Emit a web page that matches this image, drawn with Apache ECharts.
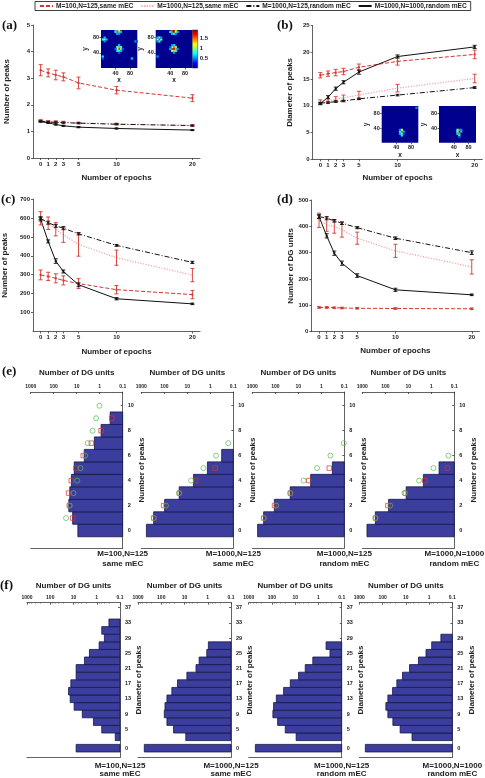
<!DOCTYPE html>
<html><head><meta charset="utf-8">
<script src="https://cdn.jsdelivr.net/npm/echarts@6/dist/echarts.min.js"></script>
<style>html,body{margin:0;padding:0;background:#fff}#c{width:485px;height:778px}</style>
</head><body><div id="c"></div>
<script>
// ---------------- data ----------------
const seriesNames = ['M=100,N=125,same mEC','M=1000,N=125,same mEC','M=1000,N=125,random mEC','M=1000,N=1000,random mEC'];
const epochs = [0,1,2,3,5,10,20];

// (a) Number of peaks
const aSame100 = [3.30,3.20,3.12,3.05,2.82,2.55,2.25];
const aSame100Err = [0.21,0.15,0.18,0.15,0.22,0.14,0.13];
const aSame1000 = [1.42,1.38,1.37,1.35,1.32,1.28,1.22];
const aSame1000Err = [0.03,0.03,0.03,0.03,0.03,0.03,0.03];
const aRand125 = [1.38,1.35,1.34,1.33,1.31,1.27,1.22];
const aRand125Err = [0.02,0.02,0.02,0.02,0.02,0.02,0.02];
const aRand1000 = [1.37,1.32,1.26,1.21,1.16,1.11,1.05];
const aRand1000Err = [0.02,0.02,0.02,0.02,0.02,0.02,0.02];

// (b) Diameter of peaks
const bSame100 = [15.7,16.0,16.2,16.4,17.2,18.3,19.6];
const bSame100Err = [0.5,0.5,0.6,0.6,0.6,0.7,0.8];
const bSame1000 = [10.7,11.0,11.2,11.5,12.0,13.3,15.1];
const bSame1000Err = [0.4,0.4,0.5,0.5,0.7,0.7,0.8];
const bRand125 = [10.5,10.6,10.8,10.9,11.3,12.0,13.4];
const bRand125Err = [0.15,0.15,0.15,0.15,0.15,0.15,0.15];
const bRand1000 = [10.4,11.6,13.2,14.4,16.3,19.2,21.0];
const bRand1000Err = [0.2,0.3,0.3,0.3,0.4,0.3,0.3];

// (c) Number of peaks (total)
const cSame100 = [299,291,281,270,253,221,195];
const cSame100Err = [26,22,24,24,26,22,22];
const cSame1000 = [598,572,540,511,460,390,298];
const cSame1000Err = [35,33,35,40,62,40,35];
const cRand125 = [598,575,558,546,516,455,365];
const cRand125Err = [8,8,8,8,6,5,6];
const cRand1000 = [594,476,372,317,247,173,146];
const cRand1000Err = [10,8,12,8,10,6,4];

// (d) Number of DG units
const dSame100 = [92,92,91,90,89,88,87];
const dSame100Err = [3,3,3,3,3,3,3];
const dSame1000 = [423,406,399,387,355,307,246];
const dSame1000Err = [27,25,25,28,23,25,27];
const dRand125 = [437,431,421,412,395,355,300];
const dRand125Err = [7,6,5,5,4,5,7];
const dRand1000 = [437,364,298,260,213,159,140];
const dRand1000Err = [6,8,8,8,7,6,3];

// inset rate maps: [x, y, rate]
const aInsetL = [[45,100,1.4],[50,100,1.2],[40,100,0.6],[45,95,1.6],[50,95,1.3],[40,95,0.7],[55,95,0.6],[45,90,0.6],[50,90,0.5],
  [50,50,1.8],[50,55,1.4],[45,50,1.2],[55,50,1.0],[50,45,1.0],[45,55,0.9],[55,55,0.8],[45,45,0.7],[55,45,0.6],[50,60,0.6],[40,50,0.4],[60,50,0.4],[50,40,0.4],
  [10,75,1.2],[5,75,0.8],[15,75,0.6],[10,80,0.6],[10,70,0.5],
  [5,30,0.7],[5,25,0.4],[85,25,0.6],[95,70,0.5],[100,70,0.4]];
const aInsetR = [[45,100,1.6],[50,100,1.9],[55,100,1.3],[45,95,1.5],[50,95,1.9],[55,95,1.2],[40,95,0.7],[60,95,0.6],[50,90,0.8],[45,90,0.6],[55,90,0.5],
  [50,50,1.9],[45,50,1.7],[55,50,1.4],[50,55,1.6],[50,45,1.3],[45,55,1.2],[55,55,1.0],[45,45,1.0],[55,45,0.8],[50,60,0.7],[40,50,0.6],[60,50,0.5],[50,40,0.5],[45,60,0.5],[40,55,0.4],
  [10,75,1.7],[5,75,1.2],[15,75,0.9],[10,80,0.9],[10,70,0.8],[5,80,0.6],[15,80,0.5],[5,70,0.5],
  [5,30,0.5]];
const bInsetL = [[55,30,1.6],[55,35,1.2],[55,25,1.2],[55,20,0.7],[50,30,0.8],[50,25,0.6],[60,30,0.6],[60,25,0.4],[50,35,0.5],[95,95,0.5]];
const bInsetR = [[55,30,1.9],[55,35,1.5],[55,25,1.5],[55,20,0.8],[50,30,1.0],[50,35,0.8],[50,25,0.7],[60,30,0.6],[60,35,0.5],[55,15,0.4]];
const colorbarRange = [0, 1.9];
const colorbarTicks = [0.5, 1, 1.5];
const insetTicks = [40, 80];

// (e) number of peaks histograms
const peakBins = [0,1,2,3,4,5,6,7,8,9,10];
const peakTicks = [0,2,4,6,8,10];
const e1Bars = [8.9,15,22,20,17,12.8,4.7,1.7,0.87,0.35];
const e1Circ = [null,29,20,13.7,9.5,6.8,4.3,3.3,2.05,1.43,1.02];
const e1Sq   = [null,15,21,22.5,17.2,10.8,5.2,2.3,0.87,0.30];
const e2Bars = [600,290,97,22.5,5.4,1.34,0.32];
const e2Circ = [null,290,85,23,6.8,2.0,0.56,0.165];
const e2Sq   = [null,285,107,22,4.3,0.62];
const e3Bars = [587,321,110,22.5,2.9,0.33];
const e3Circ = [null,321,91,22.5,5.9,1.53,0.40,0.105];
const e3Sq   = [null,315,108,22,3.5,0.45];
const e4Bars = [626,271,72,12.4,2.2,0.46];
const e4Circ = [null,271,61,14.6,3.4,0.81,0.18];
const e4Sq   = [null,265,77,13.5,1.92,0.20];

// (f) diameter of peaks histograms
const diamBins = [0,3,5,7,9,11,13,15,17,19,21,23,25,27,29,31,33];
const diamTicks = [0,5,9,13,17,21,25,29,33,37];
const f1Bars = [7.7,0.16,0.61,1.39,4.2,9.4,13.9,16.3,13.0,7.7,7.7,3.38,2.06,0.79,0.47,0.61,0.30];
const f2Bars = [536,8.8,29.6,57,74,69,57,35,20,7.9,3.2,2.35,1.1,0.94];
const f3Bars = [516,9.1,26.8,57,91,85,65,31.6,16.3,7.2,3.7,1.75,0.32,0.47];
const f4Bars = [550,5.4,17.5,36,59,72,59,37,24.3,13.9,6.9,2.86,1.35,0.77,0.31];

const panelLabels = [['M=100,N=125','same mEC'],['M=1000,N=125','same mEC'],['M=1000,N=125','random mEC'],['M=1000,N=1000','random mEC']];

// ---------------- styling helpers ----------------
const FONT = 'Liberation Sans, Arial, Helvetica, sans-serif';
const AXL = {color:'#3a3a3a', width:0.8};
const lab = (fs, extra) => Object.assign({fontSize:fs, fontWeight:'bold', color:'#222', fontFamily:FONT}, extra || {});
const jet = ['#00008f','#0000ff','#007fff','#00ffff','#7fff7f','#ffff00','#ff7f00','#ff0000','#7f0000'];
const styles = [
  {color:'#d6352f', type:[4,2], width:1, err:'#d6352f', symbol:'rect', size:2, mark:'#d6352f'},
  {color:'#f2a3a3', type:[1.2,1.5], width:1.2, err:'#d6352f', symbol:'none', size:2, mark:'#f2a3a3'},
  {color:'#111', type:[5,2,1,2], width:1, err:'#111', symbol:'rect', size:2, mark:'#111'},
  {color:'#111', type:'solid', width:1, err:'#111', symbol:'rect', size:2, mark:'#111'}
];

const grids = [], xAxes = [], yAxes = [], series = [], titles = [], insetSeries = [];
function addGrid(g){ grids.push(Object.assign({containLabel:false, outerBoundsMode:'none'}, g)); return grids.length - 1; }
function addX(o){ xAxes.push(o); return xAxes.length - 1; }
function addY(o){ yAxes.push(o); return yAxes.length - 1; }

function errRender(params, api){
  const x = api.value(0), lo = api.value(1), hi = api.value(2);
  const p1 = api.coord([x, lo]), p2 = api.coord([x, hi]);
  const w = 2;
  const style = {stroke: api.visual('color'), lineWidth: 0.9};
  return {type:'group', children:[
    {type:'line', shape:{x1:p1[0], y1:p1[1], x2:p2[0], y2:p2[1]}, style},
    {type:'line', shape:{x1:p1[0]-w, y1:p1[1], x2:p1[0]+w, y2:p1[1]}, style},
    {type:'line', shape:{x1:p2[0]-w, y1:p2[1], x2:p2[0]+w, y2:p2[1]}, style}
  ]};
}

function linePanel(box, yMin, yMax, yInt, yName, yGap, xGap, hideMin, vals, errs){
  const gi = addGrid(box);
  const xi = addX({gridIndex:gi, type:'value', min:-1, max:21, position:'bottom',
    axisLine:{show:true, onZero:false, lineStyle:AXL},
    axisTick:{show:true, length:2, customValues:epochs, lineStyle:AXL},
    axisLabel:lab(6, {customValues:epochs, margin:3}), splitLine:{show:false},
    name:'Number of epochs', nameLocation:'middle', nameGap:xGap, nameTextStyle:lab(8)});
  const yi = addY({gridIndex:gi, type:'value', min:yMin, max:yMax, interval:yInt, position:'left',
    axisLine:{show:true, onZero:false, lineStyle:AXL},
    axisTick:{show:true, length:2, lineStyle:AXL},
    axisLabel:lab(6, {margin:3, showMinLabel:!hideMin}), splitLine:{show:false},
    name:yName, nameLocation:'middle', nameRotate:90, nameGap:yGap, nameTextStyle:lab(8)});
  for (let s = 0; s < 4; s++){
    const st = styles[s];
    series.push({type:'line', name:seriesNames[s], xAxisIndex:xi, yAxisIndex:yi,
      data: epochs.map((e, j) => [e, vals[s][j]]),
      symbol:st.symbol, symbolSize:st.size, lineStyle:{color:st.color, width:st.width, type:st.type},
      itemStyle:{color:st.mark}, z:2, silent:true});
  }
  for (let s = 0; s < 4; s++){
    series.push({type:'custom', name:'err'+s, xAxisIndex:xi, yAxisIndex:yi, renderItem:errRender,
      itemStyle:{color:styles[s].err}, encode:{x:0, y:[1,2]}, z:3, silent:true,
      data: epochs.map((e, j) => [e, vals[s][j] - errs[s][j], vals[s][j] + errs[s][j]])});
  }
}

function cellRender(params, api){
  const x = api.value(0), y = api.value(1);
  const a = api.coord([x - 2.5, y + 2.5]), b = api.coord([x + 2.5, y - 2.5]);
  return {type:'rect', shape:{x:a[0]-0.2, y:a[1]-0.2, width:b[0]-a[0]+0.4, height:b[1]-a[1]+0.4},
    style:{fill: api.visual('color')}};
}

function insetPanel(box, cells, xGap, yGap){
  const gi = addGrid(Object.assign({show:true, backgroundColor:'#00008f', borderWidth:0}, box));
  const xi = addX({gridIndex:gi, type:'value', min:0, max:100, position:'bottom',
    axisLine:{show:false, onZero:false}, axisTick:{show:true, length:1.5, customValues:insetTicks, lineStyle:AXL},
    axisLabel:lab(5.5, {customValues:insetTicks, margin:2}), splitLine:{show:false},
    name:'x', nameLocation:'middle', nameGap:xGap, nameTextStyle:lab(6.5)});
  const yi = addY({gridIndex:gi, type:'value', min:0, max:100, position:'left',
    axisLine:{show:false, onZero:false}, axisTick:{show:true, length:1.5, customValues:insetTicks, lineStyle:AXL},
    axisLabel:lab(5.5, {customValues:insetTicks, margin:2}), splitLine:{show:false},
    name:'y', nameLocation:'middle', nameRotate:90, nameGap:yGap, nameTextStyle:lab(6.5)});
  series.push({type:'custom', xAxisIndex:xi, yAxisIndex:yi, renderItem:cellRender, clip:true,
    data:cells, encode:{x:0, y:1}, silent:true});
  insetSeries.push(series.length - 1);
}

function hbar(half){
  return function(params, api){
    const v = api.value(0), y = api.value(1);
    const p1 = api.coord([v, y + half]);
    const p2 = api.coord([0.1, y - half]);
    return {type:'rect', shape:{x:Math.min(p1[0],p2[0]), y:Math.min(p1[1],p2[1]),
      width:Math.abs(p2[0]-p1[0]), height:Math.abs(p2[1]-p1[1])},
      style:{fill:'#3b3e9d', stroke:'#16164a', lineWidth:0.8}};
  };
}

function histPanel(box, yMin, yMax, yTicks, yName, nameGapTop, nameGapY, bins, half, bars, circ, sq){
  const gi = addGrid(box);
  const xi = addX({gridIndex:gi, type:'log', logBase:10, min:0.1, max:1000, inverse:true, position:'top',
    axisLine:{show:true, onZero:false, lineStyle:AXL},
    axisTick:{show:true, inside:true, length:2, lineStyle:AXL},
    minorTick:{show:true, splitNumber:5, length:1.2, lineStyle:{color:'#666', width:0.5}},
    axisLabel:lab(5, {margin:3, formatter: v => String(+Number(v).toPrecision(4))}),
    splitLine:{show:false},
    name:'Number of DG units', nameLocation:'middle', nameGap:nameGapTop, nameTextStyle:lab(8)});
  addX({gridIndex:gi, type:'value', min:0, max:1, position:'bottom',
    axisLine:{show:true, onZero:false, lineStyle:AXL}, axisTick:{show:false}, axisLabel:{show:false}, splitLine:{show:false}});
  const yi = addY({gridIndex:gi, type:'value', min:yMin, max:yMax, position:'right',
    axisLine:{show:true, onZero:false, lineStyle:AXL},
    axisTick:{show:true, inside:true, length:2, customValues:yTicks, lineStyle:AXL},
    axisLabel:lab(5.5, {customValues:yTicks, margin:5}), splitLine:{show:false},
    name:yName, nameLocation:'middle', nameRotate:90, nameGap:nameGapY, nameTextStyle:lab(8)});
  series.push({type:'custom', xAxisIndex:xi, yAxisIndex:yi, renderItem:hbar(half), silent:true,
    encode:{x:0, y:1}, data: bins.map((b, i) => [bars[i], b]).filter(d => d[0] != null)});
  if (sq) series.push({type:'scatter', xAxisIndex:xi, yAxisIndex:yi, symbol:'rect', symbolSize:4.5, silent:true, z:4,
    itemStyle:{color:'rgba(0,0,0,0)', borderColor:'#d6352f', borderWidth:0.9},
    data: bins.map((b, i) => [sq[i], b]).filter(d => d[0] != null)});
  if (circ) series.push({type:'scatter', xAxisIndex:xi, yAxisIndex:yi, symbol:'circle', symbolSize:5, silent:true, z:5,
    itemStyle:{color:'rgba(0,0,0,0)', borderColor:'#5cb85c', borderWidth:0.9},
    data: bins.map((b, i) => [circ[i], b]).filter(d => d[0] != null)});
}

// ---------------- panels ----------------
linePanel({left:33, top:25, width:167, height:133}, 0, 5, 1, 'Number of peaks', 22, 16, false,
  [aSame100, aSame1000, aRand125, aRand1000], [aSame100Err, aSame1000Err, aRand125Err, aRand1000Err]);
linePanel({left:312.6, top:25.5, width:169.8, height:133.8}, 0, 25, 5, 'Diameter of peaks', 19, 14.5, false,
  [bSame100, bSame1000, bRand125, bRand1000], [bSame100Err, bSame1000Err, bRand125Err, bRand1000Err]);
linePanel({left:33, top:199, width:167, height:132.5}, 0, 700, 100, 'Number of peaks', 24, 16, true,
  [cSame100, cSame1000, cRand125, cRand1000], [cSame100Err, cSame1000Err, cRand125Err, cRand1000Err]);
linePanel({left:311.4, top:200, width:168, height:131.7}, 0, 500, 100, 'Number of DG units', 16.5, 15, false,
  [dSame100, dSame1000, dRand125, dRand1000], [dSame100Err, dSame1000Err, dRand125Err, dRand1000Err]);

insetPanel({left:101, top:30, width:36.3, height:38}, aInsetL, 7, 10);
insetPanel({left:155.7, top:30, width:36.6, height:38}, aInsetR, 7, 10);
insetPanel({left:381.7, top:106, width:36.6, height:36.7}, bInsetL, 7.5, 10);
insetPanel({left:439, top:106, width:37, height:36.7}, bInsetR, 7.5, 10);

// colorbar
{
  const gi = addGrid({left:192.3, top:30, width:5.4, height:38});
  const xi = addX({gridIndex:gi, type:'value', min:0, max:1, show:false});
  const yi = addY({gridIndex:gi, type:'value', min:colorbarRange[0], max:colorbarRange[1], position:'right',
    axisLine:{show:false, onZero:false}, axisTick:{show:false},
    axisLabel:lab(6, {customValues:colorbarTicks, margin:2}), splitLine:{show:false}});
  series.push({type:'custom', xAxisIndex:xi, yAxisIndex:yi, silent:true, encode:{x:[0,2], y:[1,3]},
    data:[[0, colorbarRange[0], 1, colorbarRange[1]]],
    renderItem:(p, api) => {
      const a = api.coord([api.value(0), api.value(1)]), b = api.coord([api.value(2), api.value(3)]);
      return {type:'rect', shape:{x:a[0], y:b[1], width:b[0]-a[0], height:a[1]-b[1]},
        style:{fill:{type:'linear', x:0, y:1, x2:0, y2:0,
          colorStops: jet.map((c, i) => ({offset:i/(jet.length-1), color:c}))}, stroke:'#222', lineWidth:0.5}};
    }});
}

const eLefts = [30.7, 141.3, 252.3, 362.3];
const eData = [[e1Bars,e1Circ,e1Sq],[e2Bars,e2Circ,e2Sq],[e3Bars,e3Circ,e3Sq],[e4Bars,e4Circ,e4Sq]];
eLefts.forEach((l, i) => histPanel({left:l, top:392, width:92, height:156}, -1.4, 11.1, peakTicks,
  'Number of peaks', 15.7, 11.6, peakBins, 0.5, eData[i][0], eData[i][1], eData[i][2]));
const fLefts = [27, 138, 248.7, 359.3];
const fData = [f1Bars, f2Bars, f3Bars, f4Bars];
fLefts.forEach((l, i) => histPanel({left:l, top:602.7, width:93, height:154.6}, -2.4, 38.3, diamTicks,
  'Diameter of peaks', 13, 11, diamBins, 1, fData[i], null, null));

// texts
const panelTag = (t, x, y) => titles.push({text:t, left:x, top:y, padding:0,
  textStyle:{fontFamily:'Liberation Serif, Times New Roman, serif', fontSize:13, fontWeight:'bold', color:'#111'}});
panelTag('(a)', 2, 19); panelTag('(b)', 277, 19); panelTag('(c)', 1, 193); panelTag('(d)', 277, 193);
panelTag('(e)', 2, 365.5); panelTag('(f)', 0, 579);
eLefts.forEach((l, i) => titles.push({text:panelLabels[i].join('\n'), left:l + 92, top:549.5, padding:0, textAlign:'center',
  textStyle:lab(8, {lineHeight:9.3})}));
fLefts.forEach((l, i) => titles.push({text:panelLabels[i].join('\n'), left:l + 93, top:761, padding:0, textAlign:'center',
  textStyle:lab(8, {lineHeight:8.7})}));

const option = {
  animation:false, backgroundColor:'#fff', textStyle:{fontFamily:FONT},
  title:titles,
  legend:{data:seriesNames, left:35, top:1.5, padding:[1,4,1,4], itemGap:7, itemWidth:13, itemHeight:6,
    borderColor:'#111', borderWidth:0.8, itemStyle:{opacity:0},
    textStyle:{fontSize:6.6, fontWeight:'bold', color:'#222', fontFamily:FONT, padding:[0,0,0,-2]}},
  visualMap:[{type:'continuous', show:false, min:colorbarRange[0], max:colorbarRange[1], dimension:2,
    seriesIndex:insetSeries, inRange:{color:jet}}],
  grid:grids, xAxis:xAxes, yAxis:yAxes, series:series
};
const chart = echarts.init(document.getElementById('c'), null, {renderer:'canvas'});
chart.setOption(option);
</script></body></html>
